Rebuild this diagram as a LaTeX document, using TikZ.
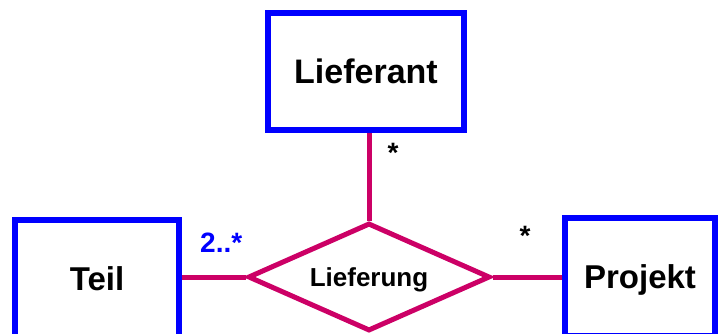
\documentclass[tikz,border=0pt]{standalone}
\usepackage{fontspec}
\setmainfont{Liberation Sans}
\usetikzlibrary{shapes.geometric}
\definecolor{entblue}{RGB}{0,0,255}
\definecolor{relmag}{RGB}{204,0,102}
\tikzset{
  entity/.style={draw=entblue, line width=6pt, rectangle, inner sep=0pt,
    font=\fontsize{33}{36}\selectfont\bfseries, text height=23.8pt, text depth=0pt},
  relation/.style={draw=relmag, line width=5pt, diamond, aspect=2.24, inner sep=0pt,
    minimum width=242pt, minimum height=108pt,
    font=\fontsize{26}{30}\selectfont\bfseries, text height=18.7pt, text depth=0pt},
  conn/.style={draw=relmag, line width=5pt},
  mult/.style={inner sep=0pt, anchor=base, font=\fontsize{28}{30}\selectfont\bfseries}
}
\begin{document}
\begin{tikzpicture}[x=1pt,y=-1pt]
\useasboundingbox (0,0) rectangle (720,334);
\clip (0,0) rectangle (720,334);
\node[entity, minimum width=196pt, minimum height=117pt, font=\fontsize{34}{36}\selectfont\bfseries, text height=24.5pt] (lief) at (366,71.5) {Lieferant};
\node[entity, minimum width=164pt, minimum height=118pt] (teil) at (97,279) {Teil};
\node[entity, minimum width=150pt, minimum height=118pt] (proj) at (640,277) {Projekt};
\node[relation] (rel) at (369,277) {Lieferung};
\draw[conn] (teil.east |- rel.west) -- (rel.west);
\draw[conn] (rel.east) -- (rel.east -| proj.west);
\draw[conn] (rel.north) -- (rel.north |- lief.south);
\node[mult] (m1) at (393,163) {*};
\node[mult] (m3) at (525,245) {*};
\node[mult, anchor=base west, text=entblue] (m2) at (200,252) {2..*};
\end{tikzpicture}
\end{document}
